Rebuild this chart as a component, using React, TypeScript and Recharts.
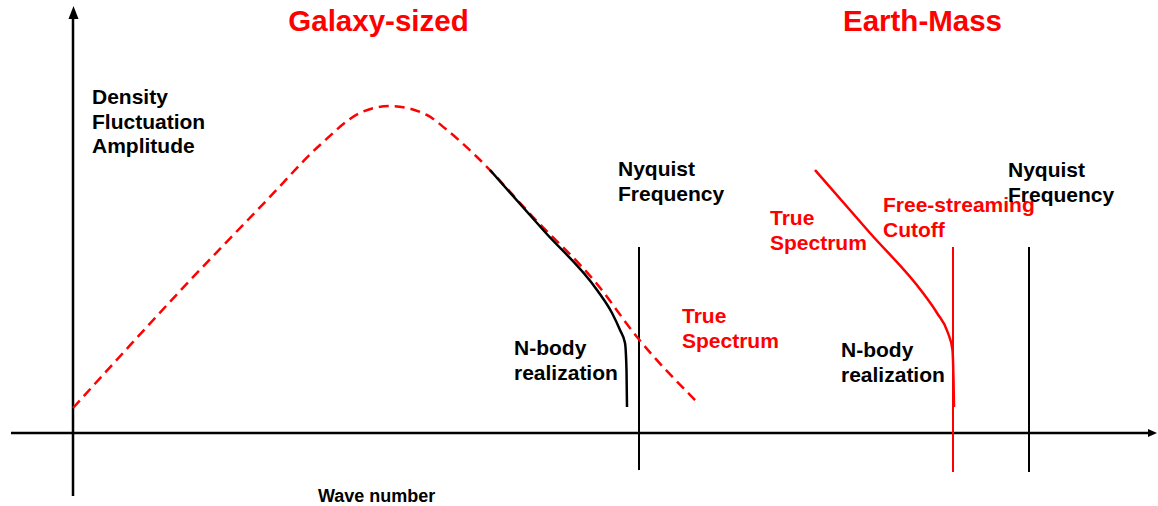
import React from 'react';
import { LineChart, Line, XAxis, YAxis, ReferenceLine, ReferenceDot } from 'recharts';

// wave number (x) vs density fluctuation amplitude (y), arbitrary units
const galaxyTrueSpectrum = [
  { x: 0, y: 0.25 },
  { x: 0.5, y: 0.8 },
  { x: 1.07, y: 1.42 },
  { x: 1.94, y: 2.33 },
  { x: 2.47, y: 2.88 },
  { x: 2.87, y: 3.2 },
  { x: 3.17, y: 3.27 },
  { x: 3.54, y: 3.18 },
  { x: 3.74, y: 3.03 },
  { x: 4.04, y: 2.76 },
  { x: 4.6, y: 2.16 },
  { x: 5.24, y: 1.49 },
  { x: 5.64, y: 0.96 },
  { x: 6.24, y: 0.31 },
];

const galaxyNBody = [
  { x: 4.17, y: 2.63 },
  { x: 4.72, y: 2.01 },
  { x: 5.24, y: 1.43 },
  { x: 5.39, y: 1.2 },
  { x: 5.47, y: 1.03 },
  { x: 5.52, y: 0.9 },
  { x: 5.535, y: 0.63 },
  { x: 5.54, y: 0.26 },
];

const earthSpectrum = [
  { x: 7.42, y: 2.63 },
  { x: 7.97, y: 2.0 },
  { x: 8.5, y: 1.4 },
  { x: 8.64, y: 1.2 },
  { x: 8.75, y: 1.0 },
  { x: 8.795, y: 0.83 },
  { x: 8.805, y: 0.53 },
  { x: 8.81, y: 0.26 },
];

// vertical markers: wave number, bottom, top
const galaxyNyquist = [5.66, -0.37, 1.86];
const freeStreamingCutoff = [8.8, -0.39, 1.86];
const earthNyquist = [9.56, -0.39, 1.86];

const xDomain = [-0.73, 10.85];
const yDomain = [-0.73, 4.33];

const RED = '#ff0000';
const FONT = "'Liberation Sans', Arial, Helvetica, sans-serif";

const notes = [
  { x: 3.055, y: 4.02, lines: ['Galaxy-sized'], color: RED, size: 29.5, anchor: 'middle' },
  { x: 8.495, y: 4.02, lines: ['Earth-Mass'], color: RED, size: 29.5, anchor: 'middle' },
  { x: 0.19, y: 3.29, lines: ['Density', 'Fluctuation', 'Amplitude'], color: '#000', size: 21, anchor: 'start' },
  { x: 5.45, y: 2.57, lines: ['Nyquist', 'Frequency'], color: '#000', size: 21, anchor: 'start' },
  { x: 6.09, y: 1.1, lines: ['True', 'Spectrum'], color: RED, size: 21, anchor: 'start' },
  { x: 4.41, y: 0.78, lines: ['N-body', 'realization'], color: '#000', size: 21, anchor: 'start' },
  { x: 6.97, y: 2.08, lines: ['True', 'Spectrum'], color: RED, size: 21, anchor: 'start' },
  { x: 8.1, y: 2.21, lines: ['Free-streaming', 'Cutoff'], color: RED, size: 21, anchor: 'start' },
  { x: 9.35, y: 2.56, lines: ['Nyquist', 'Frequency'], color: '#000', size: 21, anchor: 'start' },
  { x: 7.68, y: 0.76, lines: ['N-body', 'realization'], color: '#000', size: 21, anchor: 'start' },
  { x: 2.45, y: -0.69, lines: ['Wave number'], color: '#000', size: 18, anchor: 'start' },
];

const Note = ({ cx, cy, note }: any) => (
  <text
    x={cx}
    y={cy}
    fill={note.color}
    fontSize={note.size}
    fontWeight="bold"
    fontFamily={FONT}
    textAnchor={note.anchor}
  >
    {note.lines.map((l: string, i: number) => (
      <tspan key={i} x={cx} dy={i === 0 ? 0 : 24.5}>
        {l}
      </tspan>
    ))}
  </text>
);

const ArrowUp = ({ cx, cy }: any) => (
  <polygon points={`${cx},${cy} ${cx - 5},${cy + 13} ${cx + 5},${cy + 13}`} fill="#000" />
);

const ArrowRight = ({ cx, cy }: any) => (
  <polygon points={`${cx},${cy} ${cx - 9},${cy - 4} ${cx - 9},${cy + 4}`} fill="#000" />
);

const vertical = (m: number[], color: string, key: string) => (
  <ReferenceLine
    key={key}
    segment={[{ x: m[0], y: m[1] }, { x: m[0], y: m[2] }]}
    stroke={color}
    strokeWidth={2}
  />
);

export default function App() {
  return (
    <div style={{ position: 'fixed', left: 0, top: 0, width: 1158, height: 506, background: '#fff' }}>
      <LineChart width={1158} height={506} margin={{ top: 0, right: 0, bottom: 0, left: 0 }}>
        <XAxis type="number" dataKey="x" domain={xDomain} hide allowDataOverflow />
        <YAxis type="number" dataKey="y" domain={yDomain} hide allowDataOverflow />

        <ReferenceLine segment={[{ x: -0.62, y: 0 }, { x: 10.78, y: 0 }]} stroke="#000" strokeWidth={2.5} />
        <ReferenceLine segment={[{ x: 0, y: -0.63 }, { x: 0, y: 4.16 }]} stroke="#000" strokeWidth={2.5} />
        <ReferenceDot x={0.005} y={4.27} r={0} shape={(p: any) => <ArrowUp {...p} />} />
        <ReferenceDot x={10.84} y={0} r={0} shape={(p: any) => <ArrowRight {...p} />} />

        {vertical(galaxyNyquist, '#000', 'gn')}
        {vertical(freeStreamingCutoff, RED, 'fs')}
        {vertical(earthNyquist, '#000', 'en')}

        <Line
          data={galaxyTrueSpectrum}
          dataKey="y"
          type="monotone"
          stroke={RED}
          strokeWidth={2.5}
          strokeDasharray="10 6"
          dot={false}
          activeDot={false}
          isAnimationActive={false}
        />
        <Line
          data={galaxyNBody}
          dataKey="y"
          type="monotone"
          stroke="#000"
          strokeWidth={2.5}
          dot={false}
          activeDot={false}
          isAnimationActive={false}
        />
        <Line
          data={earthSpectrum}
          dataKey="y"
          type="monotone"
          stroke={RED}
          strokeWidth={2.5}
          dot={false}
          activeDot={false}
          isAnimationActive={false}
        />

        {notes.map((n, i) => (
          <ReferenceDot key={i} x={n.x} y={n.y} r={0} shape={(p: any) => <Note {...p} note={n} />} />
        ))}
      </LineChart>
    </div>
  );
}
